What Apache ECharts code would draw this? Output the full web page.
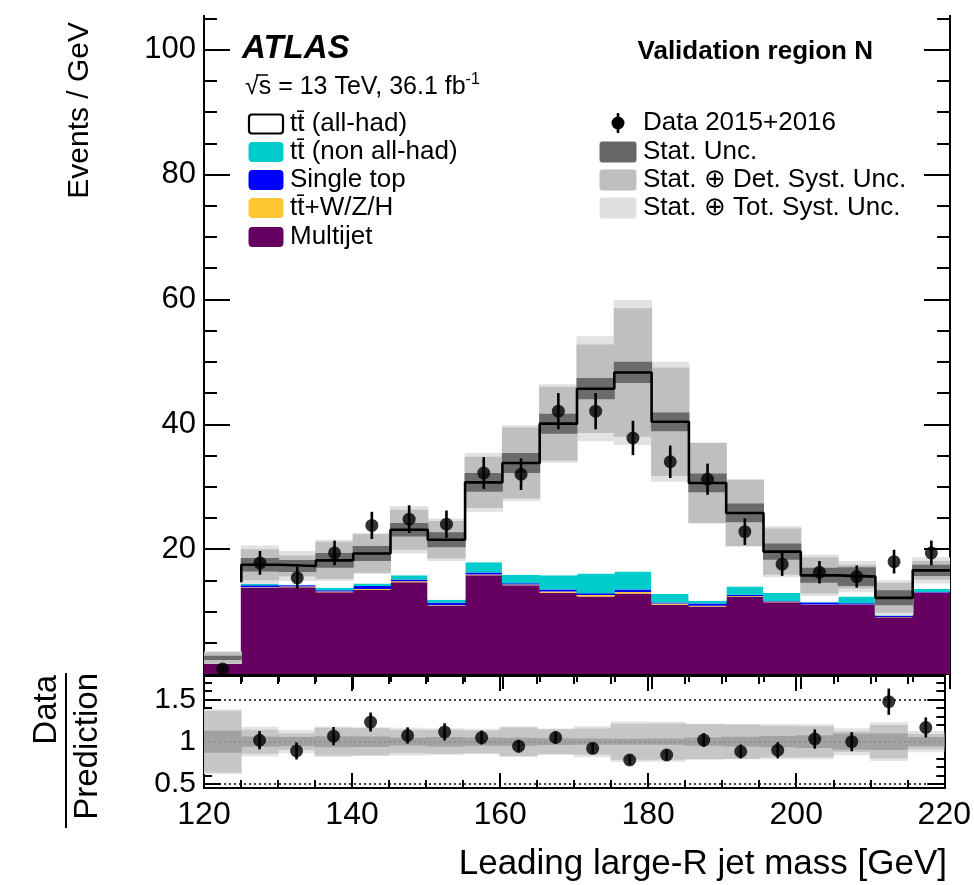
<!DOCTYPE html>
<html>
<head>
<meta charset="utf-8">
<script src="https://cdn.jsdelivr.net/npm/echarts@6/dist/echarts.min.js"></script>
<style>
html,body{margin:0;padding:0;background:#fff;}
#chart{width:974px;height:885px;}
</style>
</head>
<body>
<div id="chart"></div>
<script>
// ---------------- data ----------------
const binEdges = [120,125,130,135,140,145,150,155,160,165,170,175,180,185,190,195,200,205,210,215,220];
const multijet   = [2.2,13.8,13.9,13.1,13.5,14.7,10.9,15.8,14.2,13.0,12.4,12.9,11.1,10.8,12.4,11.5,11.1,11.1,9.1,13.0];
const ttV        = [0.03,0.1,0.1,0.1,0.1,0.15,0.1,0.15,0.15,0.2,0.25,0.25,0.2,0.15,0.1,0.1,0.05,0.05,0.05,0.05];
const singleTop  = [0.05,0.3,0.2,0.2,0.5,0.3,0.4,0.3,0.2,0.35,0.3,0.4,0.15,0.35,0.2,0.1,0.3,0.2,0.2,0.1];
const ttNonAllHad= [0.2,0.5,0.1,0.4,0.4,0.65,0.5,1.65,1.35,2.25,3.15,2.85,1.35,0.45,1.3,1.3,0.1,1.05,0.05,0.45];
const ttAllHad   = [0.12,2.8,3.0,4.4,4.8,7.3,9.6,12.8,17.9,24.3,29.6,31.9,27.6,18.85,11.8,6.6,4.25,3.2,2.8,3.0];
const statUnc    = [0.34,1.07,0.96,1.2,1.2,1.07,1.2,1.5,1.6,1.6,1.7,1.7,1.5,1.5,1.5,1.3,1.2,1.5,1.2,0.9];
const detUnc     = [0.95,2.5,1.7,3.0,3.1,3.2,3.0,4.1,5.7,5.9,7.1,10.3,8.7,6.4,5.3,3.7,2.9,1.9,2.4,1.5];
const totUnc     = [1.0,3.1,2.4,3.3,3.3,3.8,3.4,4.7,6.1,6.3,8.4,11.6,9.6,6.5,5.4,4.1,3.3,2.5,2.8,2.1];
const dataVals   = [0.8,17.8,15.4,19.4,23.8,24.8,24.0,32.2,32.0,42.1,42.1,37.8,34.0,31.2,22.8,17.6,16.3,15.6,18.0,19.4];
const dataErr    = [0.4,1.9,1.75,1.97,2.18,2.23,2.19,2.54,2.53,2.9,2.9,2.75,2.6,2.5,2.14,1.88,1.8,1.77,1.9,1.97];
const mainMajorTicks = [0,20,40,60,80,100];
const mainMinorTicks = [5,10,15,25,30,35,45,50,55,65,70,75,85,90,95,105];
const ratioMajorTicks = [0.5,1,1.5];
const ratioMinorTicks = [0.6,0.7,0.8,0.9,1.1,1.2,1.3,1.4,1.6,1.7];

// ---------------- derived ----------------
const nBins = multijet.length;
const components = [
  {vals: multijet, color: '#660060'},
  {vals: ttV, color: '#ffc832'},
  {vals: singleTop, color: '#0000ff'},
  {vals: ttNonAllHad, color: '#00cccc'},
  {vals: ttAllHad, color: '#ffffff'}
];
const total = [];
const colouredTop = [];
for (let i = 0; i < nBins; i++) {
  total.push(multijet[i] + ttV[i] + singleTop[i] + ttNonAllHad[i] + ttAllHad[i]);
  colouredTop.push(multijet[i] + ttV[i] + singleTop[i] + ttNonAllHad[i]);
}
const centers = binEdges.slice(0, -1).map((e, i) => (e + binEdges[i + 1]) / 2);

const FONT = '"Liberation Sans", Arial, Helvetica, sans-serif';

function rectRender(color) {
  return function (params, api) {
    const p0 = api.coord([api.value(0), api.value(3)]);
    const p1 = api.coord([api.value(1), api.value(2)]);
    const cs = params.coordSys;
    const shape = echarts.graphic.clipRectByRect(
      {x: p0[0], y: p0[1], width: p1[0] - p0[0], height: p1[1] - p0[1]},
      {x: cs.x, y: cs.y, width: cs.width, height: cs.height});
    if (!shape) return null;
    const left = Math.max(shape.x - 0.5, cs.x);
    const right = Math.min(shape.x + shape.width + 0.5, cs.x + cs.width);
    return {type: 'rect', shape: {x: left, y: shape.y, width: right - left, height: shape.height},
      style: {fill: color}};
  };
}
function errRender(params, api) {
  const x = api.value(0), y = api.value(1), e = api.value(2);
  const cs = params.coordSys;
  const p0 = api.coord([x, y - e]);
  const p1 = api.coord([x, y + e]);
  const top = cs.y, bot = cs.y + cs.height;
  const ya = Math.max(Math.min(p0[1], bot), top);
  const yb = Math.max(Math.min(p1[1], bot), top);
  if (ya === yb) return null;
  return {type: 'line', shape: {x1: p0[0], y1: ya, x2: p1[0], y2: yb},
          style: {stroke: '#000', lineWidth: 2.6}};
}

const series = [];
components.forEach((c, k) => {
  const d = [];
  for (let i = 0; i < nBins; i++) {
    let base = 0;
    for (let j = 0; j < k; j++) base += components[j].vals[i];
    d.push([binEdges[i], binEdges[i + 1], base, base + c.vals[i]]);
  }
  series.push({type: 'custom', xAxisIndex: 0, yAxisIndex: 0, renderItem: rectRender(c.color),
    data: d, z: 2, silent: true, animation: false});
});
[[totUnc, '#e2e2e2'], [detUnc, '#bfbfbf'], [statUnc, '#6b6b6b']].forEach((b, k) => {
  const d = [];
  for (let i = 0; i < nBins; i++) d.push([binEdges[i], binEdges[i + 1], total[i] - b[0][i], total[i] + b[0][i]]);
  series.push({type: 'custom', xAxisIndex: 0, yAxisIndex: 0, renderItem: rectRender(b[1]),
    data: d, z: 3 + k * 0.1, silent: true, animation: false});
});
const stepPts = [[binEdges[1], colouredTop[1]]];
for (let i = 1; i < nBins; i++) {
  stepPts.push([binEdges[i], total[i]]);
  stepPts.push([binEdges[i + 1], total[i]]);
}
series.push({type: 'line', xAxisIndex: 0, yAxisIndex: 0, data: stepPts, showSymbol: false, symbol: 'none',
  lineStyle: {color: '#000', width: 2.6}, z: 5, silent: true, animation: false});
series.push({type: 'custom', xAxisIndex: 0, yAxisIndex: 0, renderItem: errRender,
  data: centers.map((c, i) => [c, dataVals[i], dataErr[i]]), z: 6, silent: true, animation: false});
series.push({type: 'scatter', xAxisIndex: 0, yAxisIndex: 0, symbol: 'circle', symbolSize: 13,
  itemStyle: {color: '#000'}, data: centers.map((c, i) => [c, dataVals[i]]), z: 7, silent: true, animation: false});

[[totUnc, '#e3e3e3'], [detUnc, '#c6c6c6'], [statUnc, '#a2a2a2']].forEach((b, k) => {
  const d = [];
  for (let i = 0; i < nBins; i++) {
    const r = b[0][i] / total[i];
    d.push([binEdges[i], binEdges[i + 1], 1 - r, 1 + r]);
  }
  series.push({type: 'custom', xAxisIndex: 2, yAxisIndex: 2, renderItem: rectRender(b[1]),
    data: d, z: 3 + k * 0.1, silent: true, animation: false});
});
series.push({type: 'line', xAxisIndex: 2, yAxisIndex: 2, data: [], z: 4, silent: true, animation: false,
  markLine: {silent: true, symbol: 'none', label: {show: false}, animation: false,
    data: [
      {yAxis: 1.5, lineStyle: {color: '#000', type: [2, 3], width: 1.5}},
      {yAxis: 0.5, lineStyle: {color: '#000', type: [2, 3], width: 1.5}},
      {yAxis: 1, lineStyle: {color: '#8a8a8a', type: [2, 3], width: 1.5}}
    ]}});
const ratioVals = dataVals.map((v, i) => v / total[i]);
const ratioErr = dataErr.map((e, i) => e / total[i]);
series.push({type: 'custom', xAxisIndex: 2, yAxisIndex: 2, renderItem: errRender,
  data: centers.map((c, i) => [c, ratioVals[i], ratioErr[i]]).filter(p => p[1] > 0.45 && p[1] < 1.78),
  z: 6, silent: true, animation: false});
series.push({type: 'scatter', xAxisIndex: 2, yAxisIndex: 2, symbol: 'circle', symbolSize: 13,
  itemStyle: {color: '#000'}, data: centers.map((c, i) => [c, ratioVals[i]]).filter(p => p[1] > 0.45 && p[1] < 1.78),
  z: 7, silent: true, animation: false});

// ---------------- axes ----------------
const axisLine = {show: true, lineStyle: {color: '#000', width: 2}};
function xAx(grid, pos, labels) {
  return {type: 'value', gridIndex: grid, position: pos, min: 120, max: 220, interval: 20,
    axisLine: axisLine, splitLine: {show: false},
    axisTick: {show: true, inside: true, length: 15, lineStyle: {color: '#000', width: 2}},
    minorTick: {show: true, splitNumber: 4, length: 8, lineStyle: {color: '#000', width: 2}},
    minorSplitLine: {show: false},
    axisLabel: {show: labels, fontSize: 32, color: '#000', fontFamily: FONT, margin: 11,
      showMinLabel: true, showMaxLabel: true}};
}
function yAx(grid, pos, min, max, ticks, len, labels, size) {
  return {type: 'value', gridIndex: grid, position: pos, min: min, max: max,
    axisLine: axisLine, splitLine: {show: false},
    axisTick: {show: true, inside: true, length: len, customValues: ticks, lineStyle: {color: '#000', width: 2}},
    axisLabel: labels ? {show: true, customValues: ticks.filter(v => v > 0), fontSize: size, color: '#000',
      fontFamily: FONT, margin: 8, formatter: v => String(v)} : {show: false}};
}

const option = {
  backgroundColor: '#fff',
  animation: false,
  grid: [
    {left: 204, top: 16, width: 746, height: 658},
    {left: 204, top: 676, width: 746, height: 112}
  ],
  xAxis: [xAx(0, 'bottom', false), xAx(0, 'top', false), xAx(1, 'bottom', true), xAx(1, 'top', false)],
  yAxis: [
    yAx(0, 'left', 0, 105.4, mainMajorTicks, 26, true, 31),
    yAx(0, 'left', 0, 105.4, mainMinorTicks, 13, false),
    yAx(1, 'left', 0.45, 1.78, ratioMajorTicks, 17, true, 30),
    yAx(1, 'left', 0.45, 1.78, ratioMinorTicks, 8, false),
    yAx(0, 'right', 0, 105.4, mainMajorTicks, 26, false),
    yAx(0, 'right', 0, 105.4, mainMinorTicks, 13, false),
    yAx(1, 'right', 0.45, 1.78, ratioMajorTicks, 17, false),
    yAx(1, 'right', 0.45, 1.78, ratioMinorTicks, 8, false)
  ],
  series: series,
  graphic: []
};

// ---------------- texts and legend ----------------
const G = option.graphic;
function txt(x, y, text, size, opts) {
  opts = opts || {};
  G.push({type: 'text', x: x, y: y, rotation: opts.rot || 0, silent: true, z: 100,
    style: {text: text, fill: '#000', align: opts.align || 'left', verticalAlign: opts.va || 'middle',
      font: (opts.weight || 'normal') + ' ' + (opts.style || 'normal') + ' ' + size + 'px ' + FONT,
      fontStyle: opts.style || 'normal', fontWeight: opts.weight || 'normal', fontSize: size, fontFamily: FONT,
      rich: opts.rich}});
}
txt(242, 49, 'ATLAS', 33, {weight: 'bold', style: 'italic'});
txt(245, 87, '√s = 13 TeV, 36.1 fb{sup|-1}', 25, {rich: {sup: {fontSize: 16, fontFamily: FONT, padding: [0, 0, 14, 0], fill: '#000'}}});
G.push({type: 'line', silent: true, z: 100, shape: {x1: 256, y1: 75, x2: 268, y2: 75}, style: {stroke: '#000', lineWidth: 1.5}});
txt(873, 52, 'Validation region N', 26, {weight: 'bold', align: 'right'});

const leftLegend = [
  ['t\u0074\u0304 (all-had)', '#ffffff', true],
  ['t\u0074\u0304 (non all-had)', '#00cccc'],
  ['Single top', '#0000ff'],
  ['t\u0074\u0304+W/Z/H', '#ffc832'],
  ['Multijet', '#660060']
];
const legY = [124, 152, 180, 208, 237];
leftLegend.forEach((e, i) => {
  G.push({type: 'rect', silent: true, z: 100,
    shape: {x: 249, y: legY[i] - 9.5, width: 34, height: 19, r: 3},
    style: {fill: e[1], stroke: e[2] ? '#000' : e[1], lineWidth: e[2] ? 2.2 : 1}});
  txt(290, legY[i], e[0], 26);
});
G.push({type: 'line', silent: true, z: 100, shape: {x1: 618, y1: 113, x2: 618, y2: 133}, style: {stroke: '#000', lineWidth: 2.6}});
G.push({type: 'circle', silent: true, z: 101, shape: {cx: 618, cy: 123, r: 6.5}, style: {fill: '#000'}});
txt(643, 123, 'Data 2015+2016', 26);
const rightLegend = [['Stat. Unc.', '#666666'], ['Stat. \u2295 Det. Syst. Unc.', '#bfbfbf'], ['Stat. \u2295 Tot. Syst. Unc.', '#e0e0e0']];
const rLegY = [152, 180, 208];
rightLegend.forEach((e, i) => {
  G.push({type: 'rect', silent: true, z: 100,
    shape: {x: 600, y: rLegY[i] - 10, width: 36, height: 20, r: 2},
    style: {fill: e[1], stroke: e[1], lineWidth: 1}});
  txt(643, rLegY[i], e[0], 26);
});

// axis titles
txt(80, 22, 'Events / GeV', 30, {rot: Math.PI / 2, align: 'right'});
txt(947, 864, 'Leading large-R jet mass [GeV]', 35, {align: 'right'});
txt(47, 675, 'Data', 33, {rot: Math.PI / 2, align: 'right'});
txt(88, 673, 'Prediction', 33, {rot: Math.PI / 2, align: 'right'});
G.push({type: 'line', silent: true, z: 100, shape: {x1: 66, y1: 673, x2: 66, y2: 828}, style: {stroke: '#000', lineWidth: 2}});

const chart = echarts.init(document.getElementById('chart'), null, {renderer: 'canvas'});
chart.setOption(option);
</script>
</body>
</html>
